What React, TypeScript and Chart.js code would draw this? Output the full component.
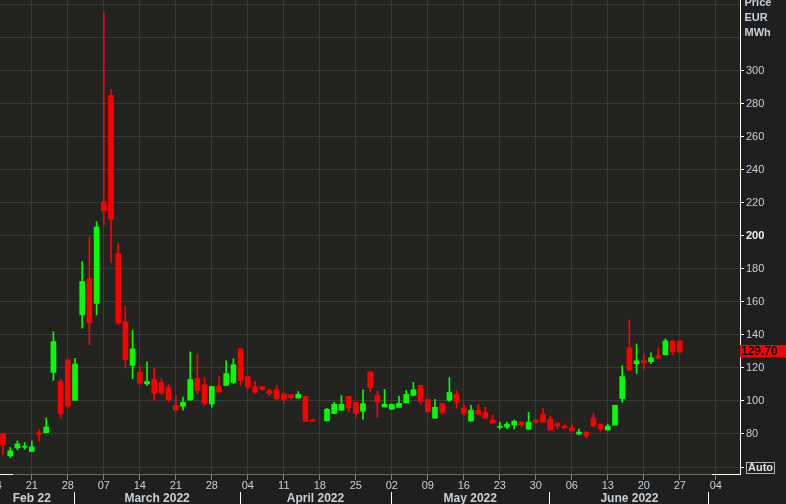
import React, { useEffect, useRef } from 'react';
import { Chart, registerables } from 'chart.js';

Chart.register(...registerables);

// Trading days (index = position on the x axis)
const days = [
  '02-14', '02-15', '02-16', '02-17', '02-18',
  '02-21', '02-22', '02-23', '02-24', '02-25',
  '02-28', '03-01', '03-02', '03-03', '03-04',
  '03-07', '03-08', '03-09', '03-10', '03-11',
  '03-14', '03-15', '03-16', '03-17', '03-18',
  '03-21', '03-22', '03-23', '03-24', '03-25',
  '03-28', '03-29', '03-30', '03-31', '04-01',
  '04-04', '04-05', '04-06', '04-07', '04-08',
  '04-11', '04-12', '04-13', '04-14', '04-15',
  '04-18', '04-19', '04-20', '04-21', '04-22',
  '04-25', '04-26', '04-27', '04-28', '04-29',
  '05-02', '05-03', '05-04', '05-05', '05-06',
  '05-09', '05-10', '05-11', '05-12', '05-13',
  '05-16', '05-17', '05-18', '05-19', '05-20',
  '05-23', '05-24', '05-25', '05-26', '05-27',
  '05-30', '05-31', '06-01', '06-02', '06-03',
  '06-06', '06-07', '06-08', '06-09', '06-10',
  '06-13', '06-14', '06-15', '06-16', '06-17',
  '06-20', '06-21', '06-22', '06-23', '06-24',
  '06-27',
];

const open = [
  null, 80, 66.8, 71.6, 72.0,
  69.4, 80.8, 80.8, 117.4, 111.8,
  125, 100.4, 152.2, 174.2, 159.2,
  220.7, 285.2, 189.4, 148, 121.6,
  117.4, 110.4, 113, 111.2, 108.4,
  97.2, 96.8, 100.6, 113.8, 109.8,
  98.2, 108.8, 109.4, 111.2, 131.6,
  114.8, 108.8, 108.6, 106.4, 106.8,
  104.4, 103.8, 101.8, 102.8, 88.4,
  null, 88, 92.4, 94.4, 102.8,
  99.2, 93.8, 117.4, 103.4, 96.4,
  95, 96.2, 98.8, 103.4, 109.4,
  101, 89.6, 98.4, 100.4, 104,
  95.6, 87.8, 94.4, 93.2, 88.4,
  84, 84.2, 85.4, 87.2, 83,
  88.4, 92, 89, 86.6, 84.8,
  83.6, 80, 81.2, 89.6, 86,
  82.4, 85.4, 101.6, 132.2, 122.6,
  124.4, 123.8, 127.4, 128, 136.4,
  136.4,
];
const high = [
  null, 80.5, 71.8, 75.8, 74.8,
  75.8, 82.4, 89.8, 142, 113.2,
  125.5, 125.8, 184.4, 199.4, 208.6,
  335.5, 288.8, 195.3, 157.4, 143,
  121.4, 123.8, 120, 113.4, 109.8,
  103.4, 102.4, 129.8, 128.2, 114.2,
  108.8, 114.8, 124.4, 125.6, 131.6,
  114.8, 111.8, 108.8, 107.4, 109.4,
  104.4, 103.8, 105.8, 102.8, 88.4,
  null, 95.6, 99.2, 103.4, 102.8,
  99.2, 106.8, 118, 106, 107,
  98, 103, 106.4, 111.4, 109.4,
  101, 101, 98.4, 114.2, 106.4,
  98, 97.4, 98, 96.2, 91.4,
  87.2, 87.2, 88.4, 87.2, 93.2,
  89, 95.6, 90.8, 86.6, 86,
  86, 83, 81.2, 92.6, 86,
  86, 97.4, 121.4, 149, 134.6,
  128.6, 129.2, 132.2, 137.6, 136.4,
  136.4,
];
const low = [
  null, 67.4, 65.8, 70.4, 70.8,
  69.4, 75.8, 80.8, 112.4, 89.8,
  96, 100.4, 144.2, 134.2, 152.2,
  206.6, 184, 146.4, 120, 113.4,
  110, 109.4, 100.4, 104, 99.4,
  94, 94.4, 100.6, 104.4, 97.4,
  96.2, 105.4, 109.4, 110.6, 109.4,
  106.8, 104.4, 106.6, 103, 100.8,
  98.4, 101, 101.8, 87.8, 88,
  null, 88, 92.4, 94.4, 93.4,
  90.4, 89, 105.8, 90, 96.4,
  95, 96.2, 98.8, 103.4, 98,
  93.4, 89.6, 92, 99.8, 95.6,
  91.4, 87.8, 92, 89, 86.6,
  82.8, 83.2, 83, 84.2, 83,
  86.6, 87.2, 82.4, 83, 83.6,
  81.8, 79.4, 77.6, 84.2, 81.8,
  82.4, 85.4, 99.2, 118.2, 116.6,
  119.6, 122.6, 125.6, 128, 128,
  128.8,
];
const close = [
  null, 73.4, 69.8, 74, 72.4,
  72.2, 79.8, 84.2, 136, 92.2,
  96.8, 122.4, 172.4, 147.4, 205.4,
  215.3, 210.2, 147.2, 125, 131.6,
  110.8, 111.8, 104.8, 104.8, 100.8,
  94.6, 99.2, 113, 106.4, 98.6,
  108.8, 105.4, 116.6, 122, 112.4,
  108.4, 105.4, 107, 104.4, 101.4,
  101, 102, 104, 87.8, 88.0,
  null, 95, 98, 98, 96,
  92.4, 98.4, 108.2, 99.4, 98,
  98, 98.6, 104, 106.8, 99.8,
  93.4, 96.2, 93.2, 105.2, 99.2,
  92.6, 94.4, 92, 89.6, 86.6,
  84.4, 86, 87.8, 85.4, 87.2,
  87.2, 87.2, 82.4, 84.8, 83.6,
  81.8, 81.2, 78.8, 84.8, 83,
  84.8, 97.4, 114.8, 118.8, 124.4,
  123.2, 126.2, 126.2, 136.4, 129.8,
  129.7,
];

// Weekly ticks (Mondays) on the trading-day index axis
const weekTickIdx = [0, 5, 10, 15, 20, 25, 30, 35, 40, 45, 50, 55, 60, 65, 70, 75, 80, 85, 90, 95, 100];
const weekTickLabels = ['14', '21', '28', '07', '14', '21', '28', '04', '11', '18', '25', '02', '09', '16', '23', '30', '06', '13', '20', '27', '04'];
const monthNames = ['Feb 22', 'March 2022', 'April 2022', 'May 2022', 'June 2022'];
const monthCenters = [5.0, 22.4, 44.4, 65.9, 88.0];
const monthStarts = [10.95, 33.95, 54.95, 76.95, 98.95];
const yTicks = [60, 80, 100, 120, 140, 160, 180, 200, 220, 240, 260, 280, 300, 320, 340];
const yAxisTitle = ['Price', 'EUR', 'MWh'];
const lastPrice = 129.7;

const X_MIN = 0.583;
const X_MAX = 103.36;
const Y_MIN = 55.76;
const Y_MAX = 343.0;

const GREEN = '#00ff00';
const RED = '#ff0000';
const OUTER_BG = '#1f1f1f';
const PLOT_BG = '#232420';
const GRID = '#3a3a3a';
const TEXT = '#c8d0d8';
const FONT = '"Liberation Sans", Arial, sans-serif';

export default function App() {
  const ref = useRef<HTMLCanvasElement | null>(null);

  useEffect(() => {
    document.body.style.margin = '0';
    document.body.style.background = OUTER_BG;
    const canvas = ref.current;
    if (!canvas) return;

    const idx = days.map((_, i) => i).filter((i) => open[i] !== null);
    const colorOf = (i: number) => ((close[i] as number) >= (open[i] as number) ? GREEN : RED);

    const bodyData = idx.map((i) => ({ x: i, y: [open[i], close[i]] }));
    const wickData = idx.map((i) => ({ x: i, y: [low[i], high[i]] }));
    const colors = idx.map(colorOf);

    const decor = {
      id: 'decor',
      beforeDraw(chart: any) {
        const { ctx, chartArea: a, width, height } = chart;
        ctx.save();
        ctx.fillStyle = OUTER_BG;
        ctx.fillRect(0, 0, width, height);
        ctx.fillStyle = PLOT_BG;
        ctx.fillRect(a.left, a.top, a.right - a.left, a.bottom - a.top);
        ctx.restore();
      },
      afterDraw(chart: any) {
        const { ctx, chartArea: a } = chart;
        const ys = chart.scales.y;
        ctx.save();
        // axis title
        ctx.font = 'bold 11px ' + FONT;
        ctx.fillStyle = TEXT;
        ctx.textAlign = 'left';
        ctx.textBaseline = 'top';
        yAxisTitle.forEach((t, i) => ctx.fillText(t, a.right + 4.5, -3 + i * 15));
        // last price marker
        const py = ys.getPixelForValue(lastPrice);
        ctx.fillStyle = RED;
        ctx.fillRect(a.right, py - 7, chart.width - a.right, 12.5);
        ctx.fillStyle = '#000000';
        ctx.font = 'bold 12px ' + FONT;
        ctx.textBaseline = 'middle';
        ctx.fillText(lastPrice.toFixed(2), a.right + 1, py - 0.5);
        // Auto box
        const ay = ys.getPixelForValue(60);
        ctx.strokeStyle = '#b8b8b8';
        ctx.lineWidth = 1;
        ctx.strokeRect(746.5, ay - 4.5, 28, 11);
        ctx.fillStyle = '#e0e4e8';
        ctx.font = 'bold 11px ' + FONT;
        ctx.fillText('Auto', 748, ay + 1);
        // white segments on the time axis line
        ctx.strokeStyle = '#ffffff';
        ctx.beginPath();
        ctx.moveTo(0, a.bottom + 0.5);
        ctx.lineTo(13, a.bottom + 0.5);
        ctx.moveTo(712, a.bottom + 0.5);
        ctx.lineTo(a.right, a.bottom + 0.5);
        ctx.stroke();
        ctx.restore();
      },
    };

    const zeroPad = (s: any) => {
      s.paddingLeft = 0;
      s.paddingRight = 0;
      s.paddingTop = 0;
      s.paddingBottom = 0;
    };

    const chart = new Chart(canvas, {
      type: 'bar',
      data: {
        datasets: [
          {
            label: 'body',
            data: bodyData as any,
            backgroundColor: colors,
            borderWidth: 0,
            barThickness: 5,
            minBarLength: 1,
            grouped: false,
            order: 0,
          } as any,
          {
            label: 'wick',
            data: wickData as any,
            backgroundColor: colors,
            borderWidth: 0,
            barThickness: 1,
            minBarLength: 1,
            grouped: false,
            order: 1,
          } as any,
        ],
      },
      options: {
        responsive: false,
        animation: false,
        devicePixelRatio: 1,
        layout: { padding: 0 },
        plugins: {
          legend: { display: false },
          tooltip: { enabled: false },
        },
        scales: {
          x: {
            type: 'linear',
            position: 'bottom',
            min: X_MIN,
            max: X_MAX,
            offset: false,
            weight: 0,
            afterBuildTicks: (s: any) => {
              s.ticks = weekTickIdx.map((v) => ({ value: v }));
            },
            afterFit: (s: any) => {
              s.height = 18;
              zeroPad(s);
            },
            ticks: {
              autoSkip: false,
              maxRotation: 0,
              minRotation: 0,
              padding: -1,
              color: TEXT,
              font: { family: FONT, size: 11 },
              callback: (v: any) => {
                const k = weekTickIdx.indexOf(Number(v));
                return k >= 0 ? weekTickLabels[k] : '';
              },
            },
            grid: {
              offset: false,
              color: GRID,
              tickColor: '#8a8a8a',
              tickLength: 6,
              drawTicks: true,
            },
            border: { display: true, color: '#6a6a6a' },
          },
          xm: {
            type: 'linear',
            position: 'bottom',
            min: X_MIN,
            max: X_MAX,
            offset: false,
            weight: 1,
            afterBuildTicks: (s: any) => {
              s.ticks = [...monthStarts, ...monthCenters].map((v) => ({ value: v }));
            },
            afterFit: (s: any) => {
              s.height = 12;
              zeroPad(s);
            },
            ticks: {
              autoSkip: false,
              maxRotation: 0,
              minRotation: 0,
              padding: -13,
              color: TEXT,
              font: { family: FONT, size: 12, weight: 'bold' },
              callback: (v: any) => {
                const k = monthCenters.indexOf(Number(v));
                return k >= 0 ? monthNames[k] : '';
              },
            },
            grid: {
              offset: false,
              drawOnChartArea: false,
              drawTicks: true,
              tickLength: 12,
              tickColor: (c: any) =>
                c.tick && monthStarts.indexOf(c.tick.value) >= 0 ? '#ffffff' : 'rgba(0,0,0,0)',
            },
            border: { display: false },
          },
          y: {
            type: 'linear',
            position: 'right',
            min: Y_MIN,
            max: Y_MAX,
            afterBuildTicks: (s: any) => {
              s.ticks = yTicks.map((v) => ({ value: v }));
            },
            afterFit: (s: any) => {
              s.width = 46;
              zeroPad(s);
            },
            ticks: {
              autoSkip: false,
              padding: 2,
              color: (c: any) => (c.tick && c.tick.value === 200 ? '#eef0f2' : TEXT),
              font: (c: any) => ({
                family: FONT,
                size: 11,
                weight: c.tick && c.tick.value === 200 ? 'bold' : 'normal',
              }),
              callback: (v: any) => {
                const n = Number(v);
                return n >= 80 && n <= 300 ? String(n) : '';
              },
            },
            grid: {
              color: GRID,
              tickLength: 4,
              tickColor: (c: any) => (c.tick && c.tick.value <= 300 ? '#ffffff' : 'rgba(0,0,0,0)'),
            },
            border: { display: true, color: '#ffffff', width: 1 },
          },
        },
      } as any,
      plugins: [decor],
    });

    return () => chart.destroy();
  }, []);

  return (
    <div style={{ width: 786, height: 504, position: 'relative' }}>
      <canvas ref={ref} width={786} height={504} style={{ display: 'block' }} />
    </div>
  );
}
